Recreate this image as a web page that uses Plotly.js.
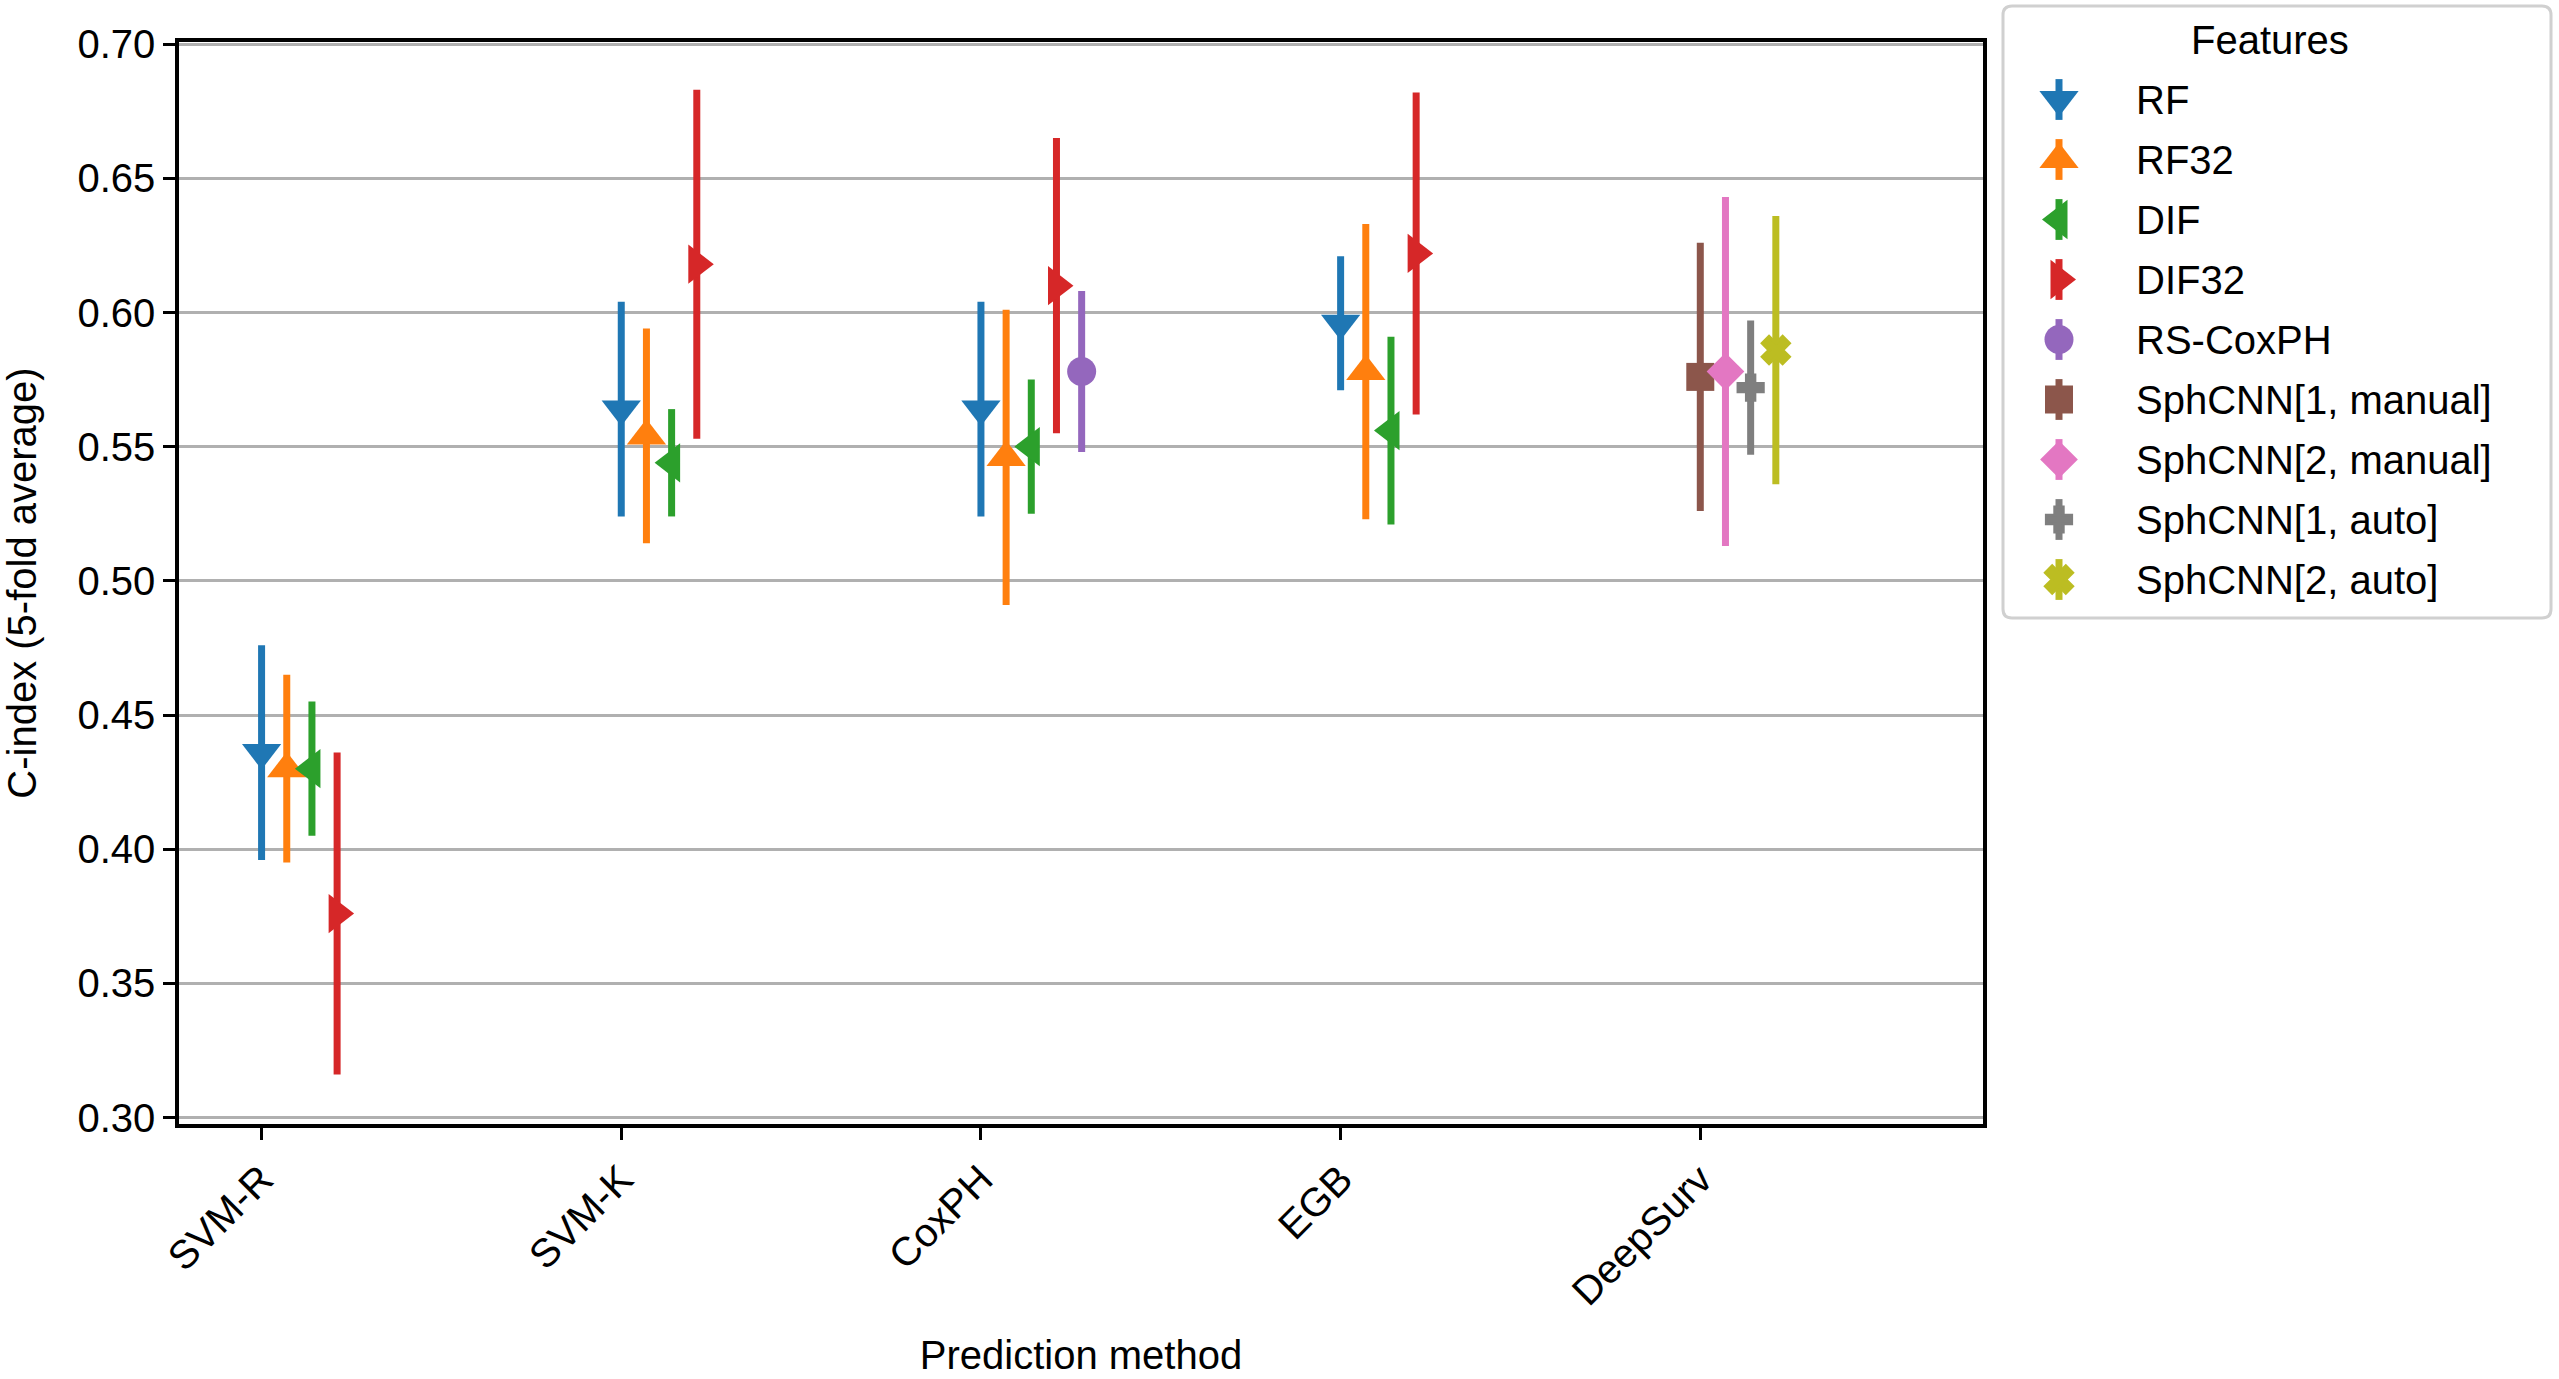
<!DOCTYPE html>
<html>
<head>
<meta charset="utf-8">
<script src="https://cdn.plot.ly/plotly-3.0.1.min.js"></script>
<style>
    html, body { margin: 0; padding: 0; background: #fff; }
    #chart { width: 2559px; height: 1379px; }
</style>
</head>
<body>
<div id="chart"></div>
<script>
// ---------- data ----------
const methods = ["SVM-R", "SVM-K", "CoxPH", "EGB", "DeepSurv"];
const features = ["RF", "RF32", "DIF", "DIF32", "RS-CoxPH",
    "SphCNN[1, manual]", "SphCNN[2, manual]", "SphCNN[1, auto]", "SphCNN[2, auto]"];

// C-index mean per method (null = not evaluated)
const rfMean    = [0.436, 0.564, 0.564, 0.596, null];
const rf32Mean  = [0.430, 0.554, 0.546, 0.578, null];
const difMean   = [0.430, 0.544, 0.550, 0.556, null];
const dif32Mean = [0.376, 0.618, 0.610, 0.622, null];
const rsCoxMean = [null, null, 0.578, null, null];
const sph1mMean = [null, null, null, null, 0.576];
const sph2mMean = [null, null, null, null, 0.578];
const sph1aMean = [null, null, null, null, 0.572];
const sph2aMean = [null, null, null, null, 0.586];

// half-width of the error bars
const rfErr    = [0.040, 0.040, 0.040, 0.025, null];
const rf32Err  = [0.035, 0.040, 0.055, 0.055, null];
const difErr   = [0.025, 0.020, 0.025, 0.035, null];
const dif32Err = [0.060, 0.065, 0.055, 0.060, null];
const rsCoxErr = [null, null, 0.030, null, null];
const sph1mErr = [null, null, null, null, 0.050];
const sph2mErr = [null, null, null, null, 0.065];
const sph1aErr = [null, null, null, null, 0.025];
const sph2aErr = [null, null, null, null, 0.050];

const yTicks = [0.30, 0.35, 0.40, 0.45, 0.50, 0.55, 0.60, 0.65, 0.70];

// ---------- style ----------
const FONT = "Liberation Sans, Arial, sans-serif";
const FS = 40;
const SLOT = 0.07; // horizontal dodge between features inside one method
const series = [
    { mean: rfMean,    err: rfErr,    slot: 0, color: "#1f77b4", symbol: "triangle-down",  size: 34, lw: 0 },
    { mean: rf32Mean,  err: rf32Err,  slot: 1, color: "#ff7f0e", symbol: "triangle-up",    size: 34, lw: 0 },
    { mean: difMean,   err: difErr,   slot: 2, color: "#2ca02c", symbol: "triangle-left",  size: 34, lw: 0 },
    { mean: dif32Mean, err: dif32Err, slot: 3, color: "#d62728", symbol: "triangle-right", size: 34, lw: 0 },
    { mean: rsCoxMean, err: rsCoxErr, slot: 4, color: "#9467bd", symbol: "circle",         size: 29, lw: 0 },
    { mean: sph1mMean, err: sph1mErr, slot: 0, color: "#8c564b", symbol: "square",         size: 28, lw: 0 },
    { mean: sph2mMean, err: sph2mErr, slot: 1, color: "#e377c2", symbol: "diamond",        size: 29, lw: 0 },
    { mean: sph1aMean, err: sph1aErr, slot: 2, color: "#7f7f7f", symbol: "cross",          size: 21, lw: 3 },
    { mean: sph2aMean, err: sph2aErr, slot: 3, color: "#bcbd22", symbol: "x",              size: 24, lw: 3 },
];

// figure geometry (px)
const W = 2559, H = 1379;
const M = { l: 179, r: 8, t: 6, b: 255 };
const PW = W - M.l - M.r, PH = H - M.t - M.b;
const plotRight = 1983;     // right spine of the main axes
const legBox = { x0: 2003, x1: 2551, y0: 6, y1: 618 };
const LEG_ROW = 60;

const px2x = (p) => (p - M.l) / PW;
const px2y = (p) => 1 - (p - M.t) / PH;

// ---------- main traces ----------
const traces = [];
series.forEach((s, k) => {
    const xs = [], ys = [], es = [];
    s.mean.forEach((v, i) => {
        if (v === null) return;
        xs.push(i + s.slot * SLOT);
        ys.push(v);
        es.push(s.err[i]);
    });
    traces.push({
        type: "scatter", mode: "markers", name: features[k],
        x: xs, y: ys, xaxis: "x", yaxis: "y",
        marker: { symbol: s.symbol, size: s.size, color: s.color, line: { width: s.lw, color: s.color } },
        error_y: { type: "data", array: es, visible: true, color: s.color, thickness: 7, width: 0 },
        showlegend: false,
        hovertemplate: `${features[k]}<br>%{y:.3f}<extra></extra>`,
    });
});

// ---------- legend, drawn on its own small axes ----------
const legendRows = features.map((_, i) => i + 1);
series.forEach((s, k) => {
    traces.push({
        type: "scatter", mode: "markers", xaxis: "x2", yaxis: "y2",
        x: [56], y: [legendRows[k]],
        marker: { symbol: s.symbol, size: s.size, color: s.color, line: { width: s.lw, color: s.color } },
        error_y: { type: "data", array: [0.34], visible: true, color: s.color, thickness: 7, width: 0 },
        showlegend: false, hoverinfo: "skip",
    });
});

const annotations = features.map((f, k) => ({
    xref: "x2", yref: "y2", x: 131, y: legendRows[k], text: f, showarrow: false,
    xanchor: "left", yanchor: "middle", font: { family: FONT, size: FS, color: "#000" },
}));
annotations.push({
    xref: "x2", yref: "y2", x: 267, y: 0, text: "Features", showarrow: false,
    xanchor: "center", yanchor: "middle", font: { family: FONT, size: FS, color: "#000" },
});

// rounded legend frame in paper coords
function roundedRect(b, r) {
    const x0 = px2x(b.x0), x1 = px2x(b.x1), y0 = px2y(b.y1), y1 = px2y(b.y0);
    const rx = r / PW, ry = r / PH;
    return `M${x0 + rx},${y1} L${x1 - rx},${y1} Q${x1},${y1} ${x1},${y1 - ry} ` +
        `L${x1},${y0 + ry} Q${x1},${y0} ${x1 - rx},${y0} L${x0 + rx},${y0} ` +
        `Q${x0},${y0} ${x0},${y0 + ry} L${x0},${y1 - ry} Q${x0},${y1} ${x0 + rx},${y1} Z`;
}

const axisFont = { family: FONT, size: FS, color: "#000" };
const layout = {
    width: W, height: H,
    margin: M,
    paper_bgcolor: "#fff", plot_bgcolor: "#fff",
    font: axisFont,
    showlegend: false,
    xaxis: {
        domain: [0, px2x(plotRight)],
        range: [-0.2296, 4.786],
        tickvals: methods.map((_, i) => i), ticktext: methods,
        tickangle: -45, tickfont: axisFont,
        ticks: "outside", ticklen: 12, tickwidth: 3, tickcolor: "#000",
        showgrid: false, zeroline: false,
        showline: true, linecolor: "#000", linewidth: 3.5, mirror: true,
        title: { text: "Prediction method", font: axisFont, standoff: 30 },
        automargin: false,
    },
    yaxis: {
        domain: [0, px2y(42)],
        range: [0.2976, 0.7008],
        tickvals: yTicks, tickformat: ".2f", tickfont: axisFont,
        ticks: "outside", ticklen: 12, tickwidth: 3, tickcolor: "#000",
        showgrid: true, gridcolor: "#b0b0b0", gridwidth: 3, zeroline: false,
        showline: true, linecolor: "#000", linewidth: 3.5, mirror: true,
        title: { text: "C-index (5-fold average)", font: axisFont, standoff: 30 },
        automargin: false,
    },
    xaxis2: {
        domain: [px2x(legBox.x0), px2x(legBox.x1)], range: [0, legBox.x1 - legBox.x0],
        visible: false, fixedrange: true, anchor: "y2",
    },
    yaxis2: {
        domain: [px2y(legBox.y1), px2y(legBox.y0)],
        range: [(legBox.y1 - 39.5) / LEG_ROW, (legBox.y0 - 39.5) / LEG_ROW],
        visible: false, fixedrange: true, anchor: "x2",
    },
    shapes: [{
        type: "path", xref: "paper", yref: "paper", path: roundedRect(legBox, 9),
        line: { color: "#d0d0d0", width: 3 }, fillcolor: "rgba(255,255,255,0.8)", layer: "below",
    }],
    annotations,
};

Plotly.newPlot("chart", traces, layout, { displayModeBar: false, responsive: false });
</script>
</body>
</html>
